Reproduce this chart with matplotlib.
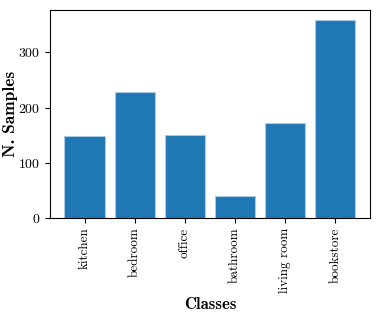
import matplotlib
matplotlib.use("Agg")
import matplotlib.pyplot as plt

categories = ["kitchen", "bedroom", "office", "bathroom", "living room", "bookstore"]
samples = [148, 228, 151, 39, 172, 358]

plt.rcParams['font.family'] = ['cmr10', 'DejaVu Serif']
plt.rcParams['mathtext.fontset'] = 'cm'
plt.rcParams['axes.formatter.use_mathtext'] = True

fig = plt.figure(figsize=(3.81, 3.15), dpi=100)
ax = fig.add_axes([0.131, 0.308, 0.84, 0.659])
ax.bar(range(len(categories)), samples, color='#1f77b4', edgecolor='#a9cbe6', linewidth=0.8)
ax.set_xticks(range(len(categories)))
ax.set_xticklabels(categories, rotation=90, fontsize=9.5)
ax.tick_params(axis='y', labelsize=10)
ax.set_yticks([0, 100, 200, 300])
ax.set_ylabel("N. Samples", fontsize=12.5, fontfamily=['cmb10', 'DejaVu Serif'])
ax.yaxis.set_label_coords(-0.1, 0.5)
ax.set_xlabel("Classes", fontsize=12, fontfamily=['cmb10', 'DejaVu Serif'], labelpad=3)
fig.savefig("out.png", dpi=100)
